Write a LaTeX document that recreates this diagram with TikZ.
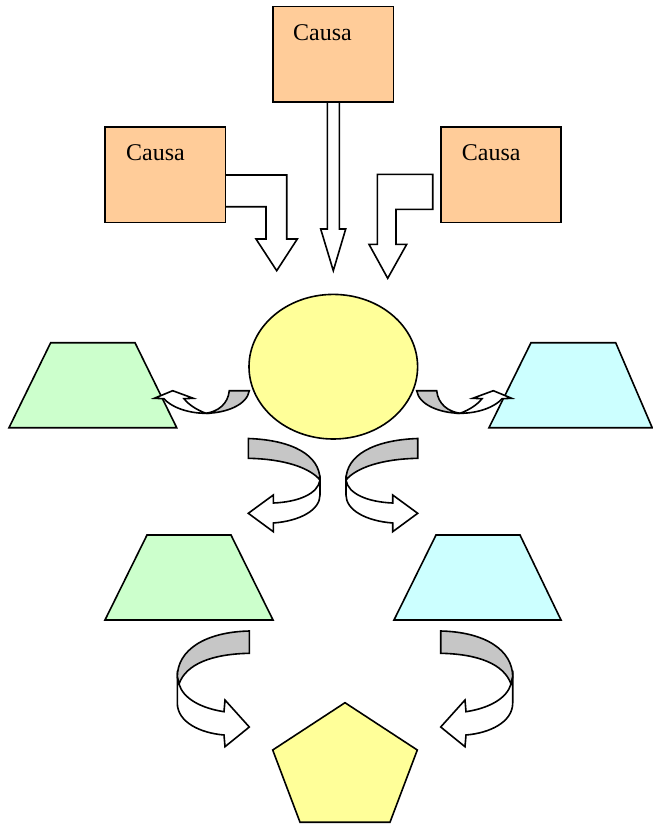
\documentclass[tikz,border=0pt]{standalone}
\usepackage{fontspec}
\setmainfont{Liberation Serif}
\usetikzlibrary{shapes.geometric}
\definecolor{peach}{HTML}{FFCC99}
\definecolor{lyellow}{HTML}{FFFF99}
\definecolor{lgreen}{HTML}{CCFFCC}
\definecolor{lcyan}{HTML}{CCFFFF}
\definecolor{bandgray}{HTML}{C6C6C6}
\tikzset{
  outl/.style={draw=black, line width=1.6pt, line join=miter},
  causabox/.style={outl, fill=peach, rectangle, inner sep=0pt, minimum width=120.5pt, minimum height=95.7pt},
  causatext/.style={anchor=base west, inner sep=0pt, font=\fontsize{24}{24}\selectfont},
  blockarrow/.style={outl, fill=white},
  backband/.style={outl, fill=bandgray},
}
\newcommand{\smallcurl}{%
  \draw[backband] (416.7,390.7) -- (436.7,390.7) .. controls (438,404) and (448,411.5) .. (460,413.3) .. controls (440,413) and (419,405) .. (416.7,390.7) -- cycle;
  \draw[blockarrow] (460,413.3) .. controls (480,413.3) and (496,406) .. (502,398.7) -- (511.7,398.3) -- (493.3,390.7) -- (472.7,398.3) -- (482,398.7) .. controls (477,405) and (469,410) .. (460,413.3) -- cycle;
}
\newcommand{\midcurl}{%
  \draw[backband] (248.3,438.5) .. controls (292,440) and (320,455) .. (320,480) .. controls (310,468) and (285,459) .. (248.3,458.3) -- cycle;
  \draw[blockarrow] (320,480) -- (320,495) .. controls (320,510) and (300,521) .. (273.3,523) -- (273.3,531.7) -- (248.3,513.3) -- (273.3,495) -- (273.3,503) .. controls (298,502) and (318,494) .. (320,480) -- cycle;
}
\newcommand{\lowcurl}{%
  \draw[backband] (249.3,631) .. controls (205,632) and (177.3,650) .. (177.3,677) -- (179,684) .. controls (186,664) and (212,654) .. (249.3,653.3) -- cycle;
  \draw[blockarrow] (177.3,677) -- (177.3,703) .. controls (177.3,722) and (200,733) .. (224,735) -- (225,746.7) -- (249.3,727) -- (225,700) -- (224,711.7) .. controls (200,708) and (183,698) .. (179,684) -- cycle;
}
\begin{document}
\begin{tikzpicture}[x=1pt,y=-1pt]
\useasboundingbox (0,0) rectangle (653,825);
% block arrows from the causes
\draw[blockarrow] (225,175) -- (286.7,175) -- (286.7,239) -- (297.3,239) -- (276.7,270.7) -- (256,239) -- (266,239) -- (266,206.7) -- (225,206.7) -- cycle;
\draw[blockarrow] (327.3,102) -- (327.3,229) -- (320.7,229) -- (333.3,270.7) -- (345.7,229) -- (339.3,229) -- (339.3,102) -- cycle;
\draw[blockarrow] (432.7,174.3) -- (377.3,174.3) -- (377.3,244.3) -- (369,244.3) -- (387.7,278.3) -- (406.7,244.3) -- (396,244.3) -- (396,209.3) -- (432.7,209.3) -- cycle;
% cause boxes
\node[causabox] (c1) at (333.3,54.3) {};
\node[causabox] (c2) at (165.3,174.8) {};
\node[causabox] (c3) at (501,174.8) {};
\node[causatext] (t1) at (293,40.7) {Causa};
\node[causatext] (t2) at (126,160.7) {Causa};
\node[causatext] (t3) at (461.7,160.7) {Causa};
% trapezoids
\draw[outl, fill=lgreen] (50.7,342.7) -- (135,342.7) -- (176.7,427.7) -- (9,427.7) -- cycle;
\draw[outl, fill=lcyan] (531,342.7) -- (615.7,342.7) -- (652.2,427.7) -- (489,427.7) -- cycle;
\draw[outl, fill=lgreen] (147,535) -- (231,535) -- (273,620) -- (105,620) -- cycle;
\draw[outl, fill=lcyan] (436,535) -- (520,535) -- (561,620) -- (394,620) -- cycle;
% central ellipse
\node[outl, fill=lyellow, ellipse, inner sep=0pt, minimum width=168.6pt, minimum height=144.6pt] (e) at (333.3,366.7) {};
% small curled arrows
\smallcurl
\begin{scope}[shift={(666,0)}, xscale=-1]
\smallcurl
\end{scope}
% middle curled arrows
\midcurl
\begin{scope}[shift={(666,0)}, xscale=-1]
\midcurl
\end{scope}
% lower curled arrows
\lowcurl
\begin{scope}[shift={(690,0)}, xscale=-1]
\lowcurl
\end{scope}
% pentagon
\draw[outl, fill=lyellow] (345,702.7) -- (417.3,750) -- (390,822.2) -- (300,822.2) -- (272.7,750) -- cycle;
\end{tikzpicture}
\end{document}
